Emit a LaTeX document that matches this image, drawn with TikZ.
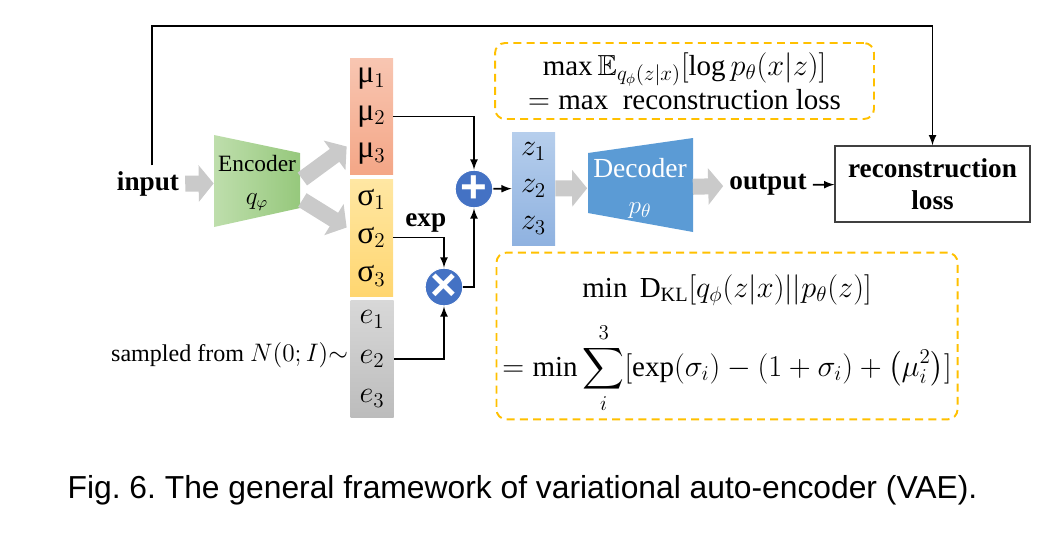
\documentclass[tikz,border=0pt]{standalone}
\usepackage{amsmath,amssymb}
\usepackage{fontspec}
\setmainfont{Liberation Serif}
\newfontfamily\capfont{Liberation Sans}
\usetikzlibrary{positioning,arrows.meta}
\definecolor{mutop}{RGB}{248,198,178}
\definecolor{mubot}{RGB}{244,166,134}
\definecolor{sigtop}{RGB}{255,231,163}
\definecolor{sigbot}{RGB}{255,214,112}
\definecolor{etop}{RGB}{216,216,216}
\definecolor{ebot}{RGB}{188,188,188}
\definecolor{ztop}{RGB}{182,206,236}
\definecolor{zbot}{RGB}{143,178,224}
\definecolor{encL}{RGB}{190,222,172}
\definecolor{encR}{RGB}{150,200,124}
\definecolor{deccol}{RGB}{91,155,213}
\definecolor{opblue}{RGB}{68,114,196}
\definecolor{formyellow}{RGB}{255,192,0}
\definecolor{arrowgray}{RGB}{202,202,202}
\tikzstyle{link} = [draw, ->, >=latex, line width=1pt]
\tikzstyle{bigarrow} = [draw=arrowgray, line width=0.32cm, -{Triangle[length=0.3cm, width=0.72cm]}]
\tikzstyle{vector} = [rectangle, minimum width=0.86cm, minimum height=2.34cm, inner sep=0, align=center]
\tikzstyle{coder} = [inner sep=0, align=center]
\tikzstyle{operation} = [circle, fill=opblue, draw=white, line width=0.6pt, minimum size=0.74cm, inner sep=0, text=white, font=\capfont\bfseries\fontsize{26}{26}\selectfont]
\tikzstyle{word} = [font=\fontsize{15.5}{18}\selectfont\bfseries]
\tikzstyle{formula} = [draw=formyellow, dash pattern=on 4.5pt off 3pt, line width=1.1pt, rounded corners=0.2cm, align=center, font=\fontsize{16.5}{19.6}\selectfont]

\begin{document}
\begin{tikzpicture}[x=0.02cm, y=-0.02cm]
    \useasboundingbox (0,0) rectangle (1050,532);

    % encoder and decoder bodies
    \shade[left color=encL, right color=encR] (214,135) -- (300,153) -- (300,208) -- (214,227) -- cycle;
    \fill[deccol] (588,153) -- (693,138) -- (693,232) -- (588,213) -- cycle;

    \node[word] (input) at (148,184) {input};
    \node[coder, minimum width=1.72cm, minimum height=1.84cm, font=\fontsize{13.3}{18.7}\selectfont] (enc) at (257,183) {Encoder\\$q_\varphi$};

    \node[vector, top color=mutop, bottom color=mubot, font=\fontsize{18}{21.3}\selectfont] (mu) at (371.5,116.5) {μ$_1$\\μ$_2$\\μ$_3$};
    \node[vector, top color=sigtop, bottom color=sigbot, font=\fontsize{18}{21.8}\selectfont] (sig) at (371.5,237.5) {σ$_1$\\σ$_2$\\σ$_3$};
    \node[vector, top color=etop, bottom color=ebot, font=\fontsize{18}{22.4}\selectfont] (e) at (372,359) {$e_1$\\$e_2$\\$e_3$};
    \node[anchor=east, inner sep=1pt, font=\fontsize{13.7}{15}\selectfont] (sampled) at ([yshift=0.08cm]e.west) {sampled from $N(0;I){\sim}$};

    \node[operation] (plus) at (474,189) {+};
    \node[operation] (times) at (444,287) {×};

    \node[vector, minimum height=2.26cm, top color=ztop, bottom color=zbot, font=\fontsize{18}{21}\selectfont] (z) at (533.5,188.5) {$z_1$\\$z_2$\\$z_3$};
    \node[coder, minimum width=2.1cm, minimum height=1.88cm, text=white, font=\fontsize{15.7}{20.4}\selectfont] (dec) at (640,188) {Decoder\\$p_\theta$};

    \node[word] (out) at (768,185) {output};
    \node[draw=black!75, line width=0.8pt, minimum width=3.9cm, minimum height=1.52cm, align=center, font=\fontsize{15.5}{18.2}\selectfont\bfseries] (rec) at (932.5,184) {reconstruction\\loss};

    \node[formula, minimum width=7.58cm, minimum height=1.52cm] (elbo) at (684.5,81)
        {$\max \mathbb{E}_{q_\phi(z|x)}[\log p_\theta(x|z)]$\\$=\max$\ \ reconstruction loss};
    \node[formula, minimum width=9.2cm, minimum height=3.16cm] (kl) at (727,336)
        {\rule{0pt}{22pt}$\min\ \mathrm{D}_{\mathrm{KL}}[q_\phi(z|x)||p_\theta(z)]$\\[9pt]
         $\displaystyle =\min\sum_{i}^{3}[\exp(\sigma_i)-(1+\sigma_i)+\left(\mu_i^2\right)]$};

    \coordinate (top) at (500,26);

    \draw[bigarrow] (input) -- (enc);
    \draw[bigarrow] ([shift={(2,-4)}]enc.east) -- ([shift={(-3,30)}]mu.west);
    \draw[bigarrow] ([shift={(2,17)}]enc.east) -- ([shift={(-3,-10)}]sig.west);
    \draw[bigarrow] (z) -- (dec);
    \draw[bigarrow] (dec) -- (out);

    \draw[link] (mu.east) -| (plus.north);
    \draw[link] (sig.east) -| (times.north) node[pos=0.32, above=-1pt, word] {exp};
    \draw[link] (e.east) -| (times.south);
    \draw[link] (times.east) -| (plus.south);
    \draw[link] (plus) -- (z);
    \draw[link] (out) -- (rec);
    \draw[link] ([xshift=0.08cm]input.north) |- (top) -| (rec.north);
    % \draw[link] (rec.west) -- (out.east);

    \node[font=\capfont\fontsize{18.1}{22}\selectfont\frenchspacing] (caption) at (522.5,490) {Fig. 6. The general framework of variational auto-encoder (VAE).};
\end{tikzpicture}
\end{document}
